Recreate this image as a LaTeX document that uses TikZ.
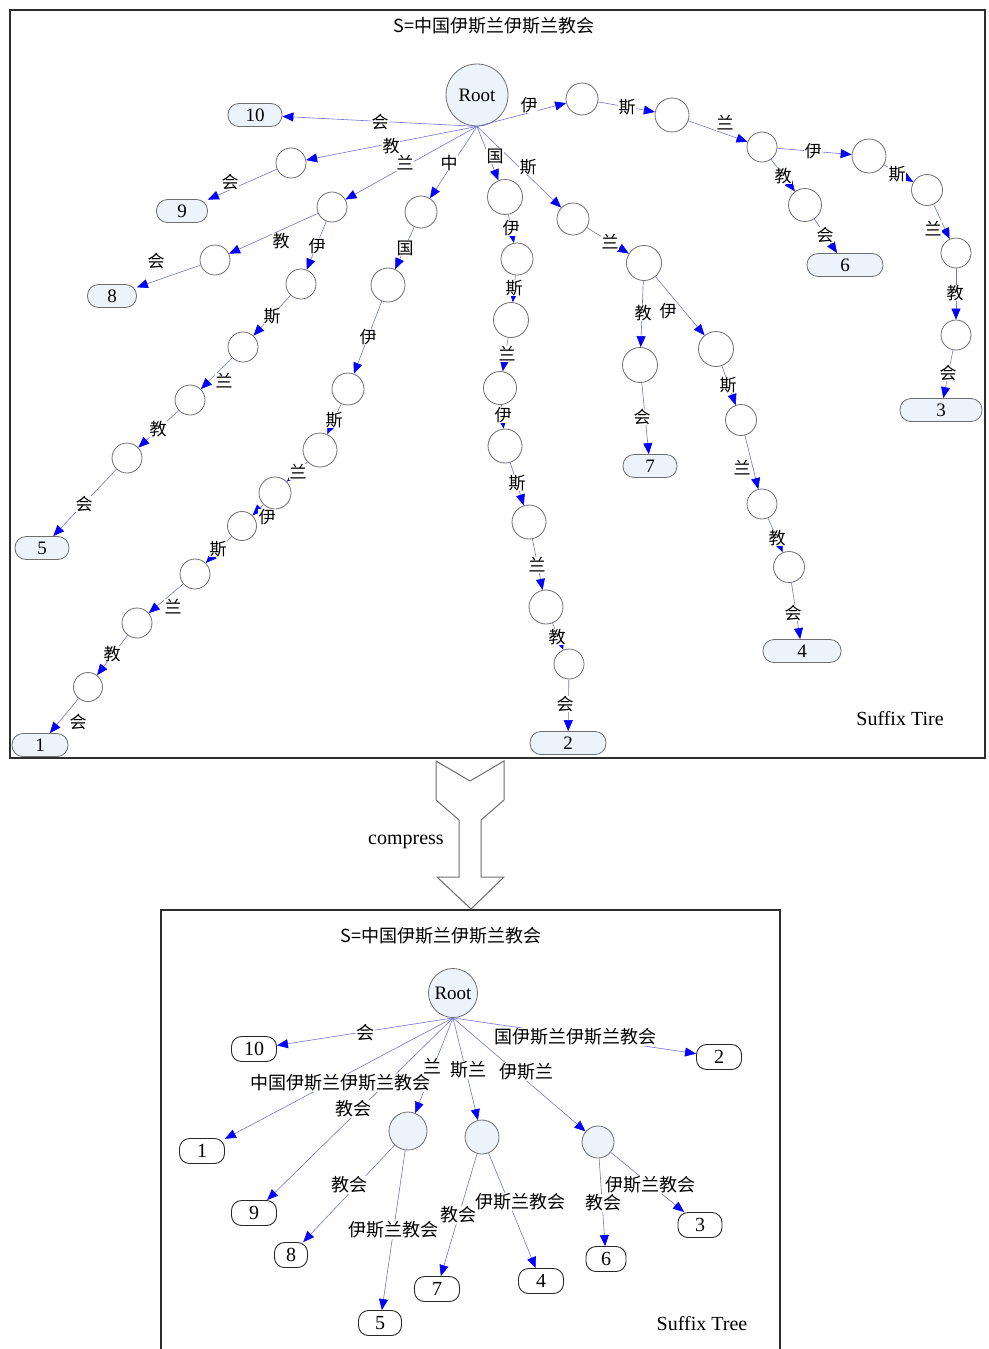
\documentclass[tikz,border=0pt]{standalone}
\usepackage{fontspec}
\setmainfont{Liberation Serif}
\newfontfamily\cjk{Noto Sans CJK SC}
\usetikzlibrary{arrows.meta}
\definecolor{edgec}{RGB}{115,115,215}
\definecolor{tipc}{RGB}{0,0,255}
\definecolor{nodec}{RGB}{110,110,110}
\definecolor{fillc}{RGB}{236,243,250}
\definecolor{framec}{RGB}{45,45,45}
\begin{document}
\begin{tikzpicture}[x=1pt,y=-1pt,
  inner/.style={circle,draw=nodec,line width=0.8pt,fill=white,minimum size=32pt,inner sep=0pt},
  rootc/.style={circle,draw=nodec,line width=0.8pt,fill=fillc,minimum size=62pt,inner sep=0pt,font=\fontsize{19}{19}\selectfont},
  leaft/.style={rectangle,rounded corners=11pt,draw=nodec,line width=0.8pt,fill=fillc,minimum height=23pt,inner sep=0pt,font=\fontsize{19}{19}\selectfont},
  leafb/.style={rectangle,rounded corners=10pt,draw=black!85,line width=0.9pt,fill=white,minimum height=25pt,minimum width=45pt,inner sep=0pt,font=\fontsize{20}{20}\selectfont},
  innerb/.style={circle,draw=nodec,line width=0.8pt,fill=fillc,inner sep=0pt},
  edge/.style={draw=edgec,line width=0.6pt,-{Triangle[length=11pt,width=9pt,color=tipc]}},
  lab/.style={fill=white,inner sep=0.5pt,font=\cjk\fontsize{17}{17}\selectfont},
  labb/.style={fill=white,inner sep=0.5pt,font=\cjk\fontsize{18}{18}\selectfont},
  title/.style={font=\cjk\fontsize{18}{18}\selectfont},
  caption/.style={font=\fontsize{20}{20}\selectfont}
]
\useasboundingbox (0,0) rectangle (988,1349);
% frames
\draw[framec,line width=2pt] (10,10) rectangle (985,758);
\draw[framec,line width=1.6pt] (161,1349) -- (161,910) -- (780,910) -- (780,1349);
% compress arrow
\draw[nodec,line width=1pt,fill=white] (436,761) -- (470,781) -- (504,761) -- (504,800) -- (481,820) -- (481,877) -- (504,877) -- (471,909) -- (437,877) -- (459,877) -- (459,820) -- (436,800) -- cycle;
\node[caption] (comp) at (406,842) {compress};
% titles
\node[title] (t1) at (494,26) {S=中国伊斯兰伊斯兰教会};
\node[title] (t2) at (441,936) {S=中国伊斯兰伊斯兰教会};
\node[caption] (cap1) at (900,719) {Suffix Tire};
\node[caption] (cap2) at (702,1324) {Suffix Tree};

%%%%% TOP: suffix trie
\node[rootc] (root) at (477,95) {Root};
\node[leaft,minimum width=54pt] (n10) at (255,115) {10};
\node[inner,minimum size=30pt] (A1) at (291,163) {};
\node[leaft,minimum width=51pt] (n9) at (182,211) {9};
\node[inner,minimum size=30pt] (B1) at (332,207) {};
\node[inner,minimum size=30pt] (B2) at (215,260) {};
\node[leaft,minimum width=49pt] (n8) at (112,296) {8};
\node[inner,minimum size=30pt] (C1) at (301,284) {};
\node[inner,minimum size=30pt] (C2) at (243,347) {};
\node[inner,minimum size=30pt] (C3) at (190,400) {};
\node[inner,minimum size=30pt] (C4) at (127,458) {};
\node[leaft,minimum width=54pt] (n5) at (42,548) {5};
\node[inner] (D1) at (421,212) {};
\node[inner,minimum size=34pt] (D2) at (388,285) {};
\node[inner] (D3) at (348,389) {};
\node[inner,minimum size=34pt] (D4) at (320,450) {};
\node[inner] (D5) at (275,493) {};
\node[inner,minimum size=29pt] (D6) at (242,526) {};
\node[inner,minimum size=30pt] (D7) at (195,574) {};
\node[inner,minimum size=30pt] (D8) at (137,623) {};
\node[inner,minimum size=29pt] (D9) at (88,687) {};
\node[leaft,minimum width=56pt] (n1) at (40,745) {1};
\node[inner,minimum size=35pt] (E1) at (505,197) {};
\node[inner] (E2) at (517,259) {};
\node[inner,minimum size=35pt] (E3) at (511,320) {};
\node[inner,minimum size=33pt] (E4) at (500,388) {};
\node[inner,minimum size=34pt] (E5) at (505,446) {};
\node[inner,minimum size=34pt] (E6) at (529,522) {};
\node[inner,minimum size=34pt] (E7) at (546,607) {};
\node[inner,minimum size=30pt] (E8) at (569,664) {};
\node[leaft,minimum width=76pt] (n2) at (568,743) {2};
\node[inner] (F1) at (573,219) {};
\node[inner,minimum size=35pt] (F2) at (644,263) {};
\node[inner,minimum size=35pt] (F3) at (640,365) {};
\node[leaft,minimum width=54pt] (n7) at (650,466) {7};
\node[inner,minimum size=35pt] (F4) at (716,349) {};
\node[inner,minimum size=31pt] (F5) at (741,420) {};
\node[inner,minimum size=30pt] (F6) at (762,504) {};
\node[inner,minimum size=31pt] (F7) at (789,567) {};
\node[leaft,minimum width=78pt] (n4) at (802,651) {4};
\node[inner] (G1) at (582,99) {};
\node[inner,minimum size=34pt] (G2) at (672,115) {};
\node[inner,minimum size=30pt] (G3) at (762,147) {};
\node[inner,minimum size=33pt] (G4) at (805,205) {};
\node[leaft,minimum width=76pt] (n6) at (845,265) {6};
\node[inner,minimum size=34pt] (G5) at (869,156) {};
\node[inner,minimum size=31pt] (G6) at (927,190) {};
\node[inner,minimum size=30pt] (G7) at (956,253) {};
\node[inner,minimum size=30pt] (G8) at (956,335) {};
\node[leaft,minimum width=82pt] (n3) at (941,410) {3};

% top edges
\draw[edge] (root.south) -- (n10);
\draw[edge] (root.south) -- (A1);
\draw[edge] (A1) -- (n9);
\draw[edge] (root.south) -- (B1);
\draw[edge] (B1) -- (B2);
\draw[edge] (B2) -- (n8);
\draw[edge] (B1) -- (C1);
\draw[edge] (C1) -- (C2);
\draw[edge] (C2) -- (C3);
\draw[edge] (C3) -- (C4);
\draw[edge] (C4) -- (n5);
\draw[edge] (root.south) -- (D1);
\draw[edge] (D1) -- (D2);
\draw[edge] (D2) -- (D3);
\draw[edge] (D3) -- (D4);
\draw[edge] (D4) -- (D5);
\draw[edge] (D5) -- (D6);
\draw[edge] (D6) -- (D7);
\draw[edge] (D7) -- (D8);
\draw[edge] (D8) -- (D9);
\draw[edge] (D9) -- (n1);
\draw[edge] (root.south) -- (E1);
\draw[edge] (E1) -- (E2);
\draw[edge] (E2) -- (E3);
\draw[edge] (E3) -- (E4);
\draw[edge] (E4) -- (E5);
\draw[edge] (E5) -- (E6);
\draw[edge] (E6) -- (E7);
\draw[edge] (E7) -- (E8);
\draw[edge] (E8) -- (n2);
\draw[edge] (root.south) -- (F1);
\draw[edge] (F1) -- (F2);
\draw[edge] (F2) -- (F3);
\draw[edge] (F3) -- (n7);
\draw[edge] (F2) -- (F4);
\draw[edge] (F4) -- (F5);
\draw[edge] (F5) -- (F6);
\draw[edge] (F6) -- (F7);
\draw[edge] (F7) -- (n4);
\draw[edge] (root.south) -- (G1);
\draw[edge] (G1) -- (G2);
\draw[edge] (G2) -- (G3);
\draw[edge] (G3) -- (G4);
\draw[edge] (G4) -- (n6);
\draw[edge] (G3) -- (G5);
\draw[edge] (G5) -- (G6);
\draw[edge] (G6) -- (G7);
\draw[edge] (G7) -- (G8);
\draw[edge] (G8) -- (n3);

% top labels
\node[lab] (la1) at (380,122) {会};
\node[lab] (la2) at (391,146) {教};
\node[lab] (la3) at (230,182) {会};
\node[lab] (lb1) at (405,163) {兰};
\node[lab] (lb2) at (281,241) {教};
\node[lab] (lb3) at (156,261) {会};
\node[lab] (lc1) at (317,246) {伊};
\node[lab] (lc2) at (272,316) {斯};
\node[lab] (lc3) at (224,381) {兰};
\node[lab] (lc4) at (158,429) {教};
\node[lab] (lc5) at (84,504) {会};
\node[lab] (ld1) at (449,163) {中};
\node[lab] (ld2) at (405,248) {国};
\node[lab] (ld3) at (368,337) {伊};
\node[lab] (ld4) at (334,420) {斯};
\node[lab] (ld5) at (298,472) {兰};
\node[lab] (ld6) at (267,517) {伊};
\node[lab] (ld7) at (218,549) {斯};
\node[lab] (ld8) at (173,607) {兰};
\node[lab] (ld9) at (112,654) {教};
\node[lab] (ld10) at (78,722) {会};
\node[lab] (le1) at (495,156) {国};
\node[lab] (le2) at (511,228) {伊};
\node[lab] (le3) at (514,288) {斯};
\node[lab] (le4) at (507,354) {兰};
\node[lab] (le5) at (503,415) {伊};
\node[lab] (le6) at (517,483) {斯};
\node[lab] (le7) at (537,565) {兰};
\node[lab] (le8) at (557,637) {教};
\node[lab] (le9) at (565,704) {会};
\node[lab] (lf1) at (528,167) {斯};
\node[lab] (lf2) at (610,242) {兰};
\node[lab] (lf3) at (643,313) {教};
\node[lab] (lf4) at (642,417) {会};
\node[lab] (lf5) at (668,311) {伊};
\node[lab] (lf6) at (728,385) {斯};
\node[lab] (lf7) at (742,468) {兰};
\node[lab] (lf8) at (777,538) {教};
\node[lab] (lf9) at (793,613) {会};
\node[lab] (lg1) at (529,105) {伊};
\node[lab] (lg2) at (627,107) {斯};
\node[lab] (lg3) at (725,123) {兰};
\node[lab] (lg4) at (783,176) {教};
\node[lab] (lg5) at (825,235) {会};
\node[lab] (lg6) at (813,151) {伊};
\node[lab] (lg7) at (897,174) {斯};
\node[lab] (lg8) at (933,229) {兰};
\node[lab] (lg9) at (955,293) {教};
\node[lab] (lg10) at (948,373) {会};

%%%%% BOTTOM: suffix tree
\node[rootc,minimum size=49pt] (r2) at (453,993) {Root};
\node[leafb] (b10) at (254,1049) {10};
\node[leafb] (b2) at (719,1057) {2};
\node[leafb] (b1) at (202,1151) {1};
\node[leafb] (b9) at (254,1213) {9};
\node[innerb,minimum size=38pt] (N1) at (408,1131) {};
\node[innerb,minimum size=34pt] (N2) at (482,1137) {};
\node[innerb,minimum size=32pt] (N3) at (598,1142) {};
\node[leafb,minimum width=33pt] (b8) at (291,1255) {8};
\node[leafb,minimum width=43pt] (b5) at (380,1323) {5};
\node[leafb] (b7) at (437,1289) {7};
\node[leafb] (b4) at (541,1281) {4};
\node[leafb,minimum width=40pt] (b6) at (606,1259) {6};
\node[leafb,minimum width=44pt] (b3) at (700,1225) {3};

\draw[edge] (r2.south) -- (b10);
\draw[edge] (r2.south) -- (b2);
\draw[edge] (r2.south) -- (b1);
\draw[edge] (r2.south) -- (b9);
\draw[edge] (r2.south) -- (N1);
\draw[edge] (r2.south) -- (N2);
\draw[edge] (r2.south) -- (N3);
\draw[edge] (N1) -- (b8);
\draw[edge] (N1) -- (b5);
\draw[edge] (N2) -- (b7);
\draw[edge] (N2) -- (b4);
\draw[edge] (N3) -- (b6);
\draw[edge] (N3) -- (b3);

\node[labb] (m1) at (365,1033) {会};
\node[labb] (m2) at (575,1037) {国伊斯兰伊斯兰教会};
\node[labb] (m3) at (340,1083) {中国伊斯兰伊斯兰教会};
\node[labb] (m4) at (353,1109) {教会};
\node[labb] (m5) at (432,1066) {兰};
\node[labb] (m6) at (468,1070) {斯兰};
\node[labb] (m7) at (526,1072) {伊斯兰};
\node[labb] (m8) at (349,1185) {教会};
\node[labb] (m9) at (393,1230) {伊斯兰教会};
\node[labb] (m10) at (458,1215) {教会};
\node[labb] (m11) at (520,1202) {伊斯兰教会};
\node[labb] (m12) at (603,1203) {教会};
\node[labb] (m13) at (650,1185) {伊斯兰教会};
\end{tikzpicture}
\end{document}
